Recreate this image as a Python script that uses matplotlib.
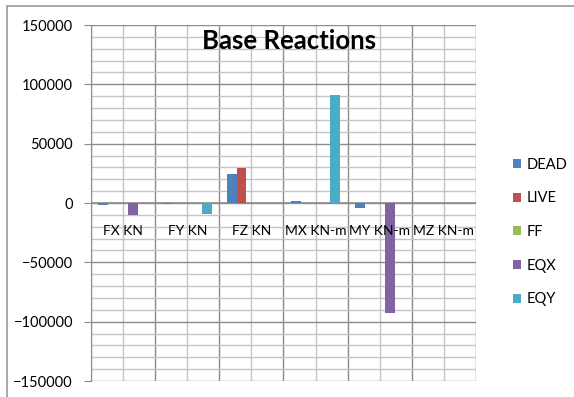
import numpy as np
import matplotlib.pyplot as plt
from matplotlib.patches import Rectangle

plt.rcParams['font.family'] = ['Lato', 'DejaVu Sans']

categorii = ['FX KN', 'FY KN', 'FZ KN', 'MX KN-m', 'MY KN-m', 'MZ KN-m']
serii = ['DEAD', 'LIVE', 'FF', 'EQX', 'EQY']
culori = ['#4F81BD', '#C0504D', '#9BBB59', '#8064A2', '#4BACC6']

dead = [-1500, -1200, 24500, 2000, -4000, 0]
live = [0, 0, 29500, 0, 0, 0]
ff = [0, 0, 0, 0, 0, 0]
eqx = [-9800, 0, 0, 0, -92500, 0]
eqy = [0, -9500, 0, 91200, 0, 0]
valori = [dead, live, ff, eqx, eqy]

fig = plt.figure(figsize=(5.74, 3.97), dpi=100)
ax = fig.add_axes([0.1585, 0.0403, 0.6707, 0.8967])

# chenarul graficului
fig.patches.append(Rectangle((7 / 574, -0.1), 1.2, 1 - 6 / 397 + 0.1,
                             transform=fig.transFigure, fill=False,
                             edgecolor='#9a9a9a', linewidth=1.2))

latime = 1 / 6.5
x = np.arange(len(categorii))
for k, (nume, v) in enumerate(zip(serii, valori)):
    ax.bar(x + 0.75 / 6.5 + k * latime, v, width=latime, align='edge',
           color=culori[k], label=nume, zorder=3)

ax.set_xlim(0, 6)
ax.set_ylim(-150000, 150000)
ax.set_yticks(np.arange(-150000, 150001, 50000))
ax.set_yticks(np.arange(-150000, 150001, 10000), minor=True)
ax.set_xticks(np.arange(0, 7, 1))
ax.set_xticks(np.arange(0.5, 6, 1), minor=True)
ax.grid(which='major', color='#8c8c8c', linewidth=1.0, zorder=0)
ax.grid(which='minor', color='#c4c4c4', linewidth=1.0, zorder=0)
ax.set_axisbelow(True)
ax.tick_params(axis='x', which='both', length=0, labelbottom=False)
ax.tick_params(axis='y', which='major', length=5, color='#8c8c8c',
               labelsize=10.5, pad=8)
ax.tick_params(axis='y', which='minor', length=0)
for s in ['top', 'right', 'bottom']:
    ax.spines[s].set_visible(False)
ax.spines['left'].set_color('#8c8c8c')
ax.axhline(0, color='#8c8c8c', linewidth=1.2, zorder=2)

for i, c in enumerate(categorii):
    ax.text(i + 0.5, -24000, c, ha='center', va='center', fontsize=10,
            zorder=4)

ax.text(0.515, 0.955, 'Base Reactions', transform=ax.transAxes, ha='center',
        va='center', fontsize=18.5, fontweight='bold', zorder=5)

leg = fig.legend(loc='upper left', bbox_to_anchor=(0.87, 0.636),
                 frameon=False, fontsize=10.5, handlelength=0.6,
                 handleheight=0.6, labelspacing=1.35, handletextpad=0.4)

fig.savefig('out.png', dpi=100)
